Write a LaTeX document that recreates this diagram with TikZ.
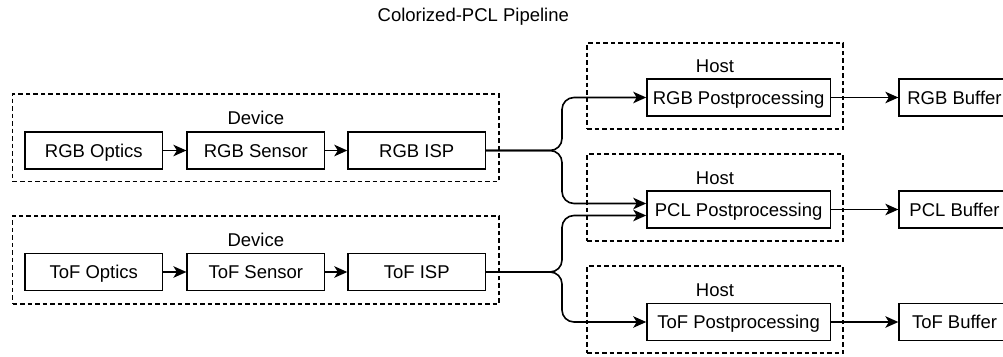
\documentclass[tikz,border=0pt]{standalone}
\usepackage{fontspec}
\setmainfont{Liberation Sans}
\usetikzlibrary{arrows.meta}
\begin{document}
\begin{tikzpicture}[x=1pt,y=-1pt,
  txt/.style={font=\fontsize{18.5}{22}\selectfont, text height=13.3pt, text depth=0pt},
  box/.style={txt, draw, line width=1.3pt, minimum height=37pt, inner sep=0pt},
  devbox/.style={box, minimum width=137.5pt},
  postbox/.style={box, minimum width=183.5pt},
  bufbox/.style={box, minimum width=111pt},
  group/.style={draw, dash pattern=on 4.5pt off 3pt, line width=1.3pt, inner sep=0pt},
  lbl/.style={txt, inner sep=0pt},
  arr/.style={-{Stealth[length=13pt,width=11.5pt,inset=3.5pt]}, line width=1.6pt},
]
\useasboundingbox (0,0) rectangle (1003,356);

\node[lbl] (title) at (473.3,15) {Colorized-PCL Pipeline};

% groups
\node[group, minimum width=486.3pt, minimum height=87.7pt] (dev1) at (255.8,137.8) {};
\node[group, minimum width=486.3pt, minimum height=88pt] (dev2) at (255.8,260) {};
\node[group, minimum width=256pt, minimum height=86pt] (host1) at (715,86) {};
\node[group, minimum width=256pt, minimum height=87pt] (host2) at (715,197.5) {};
\node[group, minimum width=256pt, minimum height=87pt] (host3) at (715,309.5) {};

\node[lbl] (dev1lbl) at (255.8,118) {Device};
\node[lbl] (dev2lbl) at (255.8,240) {Device};
\node[lbl] (host1lbl) at (715,66) {Host};
\node[lbl] (host2lbl) at (715,178) {Host};
\node[lbl] (host3lbl) at (715,290) {Host};

% device rows
\node[devbox] (rgbopt) at (93.8,150.5) {RGB Optics};
\node[devbox] (rgbsen) at (255.8,150.5) {RGB Sensor};
\node[devbox] (rgbisp) at (416.7,150.5) {RGB ISP};
\node[devbox] (tofopt) at (93.8,272) {ToF Optics};
\node[devbox] (tofsen) at (255.8,272) {ToF Sensor};
\node[devbox] (tofisp) at (416.7,272) {ToF ISP};

% host boxes
\node[postbox] (rgbpost) at (738.6,97.5) {RGB Postprocessing};
\node[postbox] (pclpost) at (738.6,209.5) {PCL Postprocessing};
\node[postbox] (tofpost) at (738.6,322) {ToF Postprocessing};

% buffers
\node[bufbox] (rgbbuf) at (954.5,97.5) {RGB Buffer};
\node[bufbox] (pclbuf) at (954.5,209.5) {PCL Buffer};
\node[bufbox] (tofbuf) at (954.5,322) {ToF Buffer};

% connectors
\draw[arr] (rgbopt) -- (rgbsen);
\draw[arr] (rgbsen) -- (rgbisp);
\draw[arr] (tofopt) -- (tofsen);
\draw[arr] (tofsen) -- (tofisp);

\coordinate (bx) at (562,0);
\draw[arr, rounded corners=12pt] (rgbisp.east) -- (rgbisp.east -| bx) |- (rgbpost.west);
\draw[arr, rounded corners=12pt] (rgbisp.east) -- (rgbisp.east -| bx) |- ([yshift=6pt]pclpost.west);
\draw[arr, rounded corners=12pt] (tofisp.east) -- (tofisp.east -| bx) |- ([yshift=-6pt]pclpost.west);
\draw[arr, rounded corners=12pt] (tofisp.east) -- (tofisp.east -| bx) |- (tofpost.west);

\draw[arr] (rgbpost) -- (rgbbuf);
\draw[arr] (pclpost) -- (pclbuf);
\draw[arr] (tofpost) -- (tofbuf);
\end{tikzpicture}
\end{document}
